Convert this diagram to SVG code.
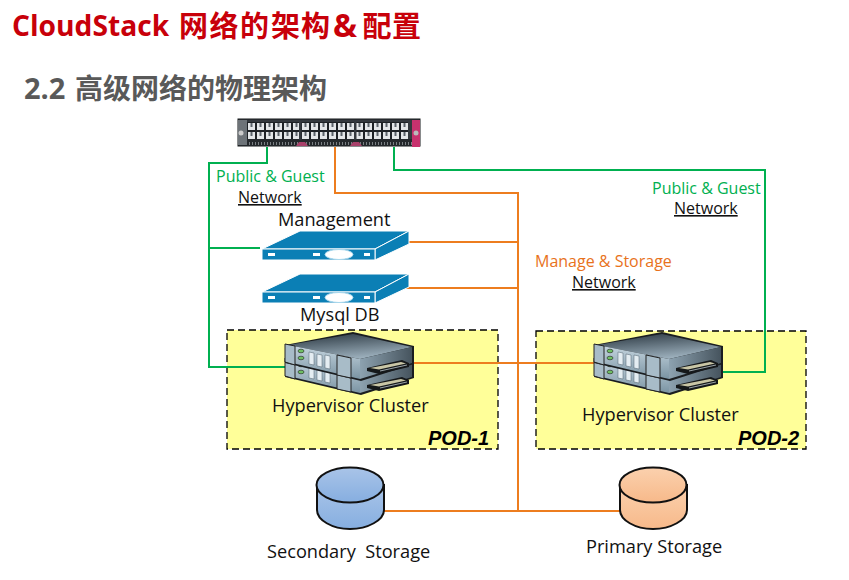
<svg xmlns="http://www.w3.org/2000/svg" width="849" height="580" viewBox="0 0 849 580">
<style>
text{font-family:"Open Sans","Noto Sans CJK SC",sans-serif}
.t{font-size:18.200px;fill:#111}
.gt{font-size:16px;fill:#00b050}
.ot{font-size:16px;fill:#e8721c}
.u{font-size:16px;fill:#111;text-decoration:underline}
.pod{font-size:20px;font-weight:700;font-style:italic;fill:#000;font-family:"Liberation Sans",sans-serif}
.box{fill:#ffff99;stroke:#000;stroke-width:1.300;stroke-dasharray:7 4}
.g{fill:none;stroke:#00b050;stroke-width:2}
.o{fill:none;stroke:#ed7d1f;stroke-width:2}
.h1{font-size:29px;font-weight:700;fill:#c8000a}
.h2{font-size:28px;font-weight:700;fill:#595959}
</style>
<defs>
<linearGradient id="top" x1="0.300" y1="0" x2="0.700" y2="1"><stop offset="0" stop-color="#33404a"/><stop offset="1" stop-color="#a5b9c6"/></linearGradient>
<linearGradient id="front" x1="0" y1="0" x2="0" y2="1"><stop offset="0" stop-color="#c6d6e0"/><stop offset="1" stop-color="#7a93a2"/></linearGradient>
<linearGradient id="side" x1="0" y1="0" x2="1" y2="0"><stop offset="0" stop-color="#8da2b0"/><stop offset="1" stop-color="#46545e"/></linearGradient>
<linearGradient id="blue" x1="0" y1="0" x2="0" y2="1"><stop offset="0" stop-color="#a9c4e8"/><stop offset="1" stop-color="#86aee0"/></linearGradient>
<linearGradient id="peach" x1="0" y1="0" x2="0" y2="1"><stop offset="0" stop-color="#fbd1ae"/><stop offset="1" stop-color="#f7b98a"/></linearGradient>
<pattern id="ports" width="9" height="9" patternUnits="userSpaceOnUse" patternTransform="translate(247 122)"><rect width="9" height="9" fill="#1e2226"/><rect x="1" y="1" width="7" height="7" fill="#e4e7e9"/><rect x="3.500" y="1" width="2" height="4" fill="#5c646b"/></pattern>
<pattern id="ticks" width="3" height="7" patternUnits="userSpaceOnUse"><rect width="3" height="7" fill="#24282c"/><rect width="1" height="3" y="2" fill="#7b8084"/></pattern>
<g id="server">
<path d="M1 19 L39 1 L148 1 L114 19 Z" fill="#0b7fb5" stroke="#fff" stroke-width="1"/>
<path d="M114 19 L148 1 L148 14 L114 30 Z" fill="#0b7fb5" stroke="#fff" stroke-width="1"/>
<rect x="1" y="19" width="113" height="11" fill="#0b7fb5" stroke="#fff" stroke-width="1"/>
<rect x="7" y="23" width="7" height="3" fill="#fff"/><rect x="52" y="23" width="7" height="3" fill="#fff"/><rect x="103" y="23" width="6" height="3" fill="#fff"/>
<ellipse cx="78" cy="24.500" rx="14" ry="5" fill="#fff" stroke="#a8d8ee" stroke-width="1"/>
</g>
<g id="blade">
<path d="M0 12 L68 -1 L129 13 L129 31 L76 48 L0 30 Z" fill="#1a1d20"/>
<path d="M3 12 L68 1 L127 14 L75 26 Z" fill="url(#top)"/>
<path d="M75 26 L127 14 L127 30 L75 46 Z" fill="url(#side)"/>
<path d="M3 12 L75 26 L75 46 L3 29 Z" fill="url(#front)"/>
<path d="M0 11 L10 13 L10 32 L0 29 Z" fill="#a8bcc8" stroke="#222"/>
<path d="M52 22 L66 25 L66 45 L52 42 Z" fill="#a8bcc8" stroke="#222"/>
<ellipse cx="16" cy="18" rx="3" ry="1.800" fill="#6fbf63" stroke="#222" stroke-width=".6"/>
<ellipse cx="16" cy="25" rx="3" ry="1.800" fill="#6fbf63" stroke="#222" stroke-width=".6"/>
<path d="M24 19 L29 20 L29 32 L24 31 Z M32 21 L37 22 L37 34 L32 33 Z M40 22 L45 23 L45 36 L40 35 Z" fill="#e4edf2" stroke="#50626e" stroke-width=".5"/>
</g>
<g id="tray">
<path d="M0 8 L35 0 L42 3 L42 7 L12 14 L0 11 Z" fill="#15181a"/>
<path d="M3 8 L34 2 L39 3.500 L12 9.500 Z" fill="#c9c6a6"/>
<path d="M13 11 L40 5" stroke="#9aa3a8" stroke-width="1" fill="none"/>
</g>
</defs>
<rect width="849" height="580" fill="#fff"/>

<g id="titles">
<text class="h1" x="12" y="36" style="font-size:28.200px">CloudStack</text>
<text class="h1" x="179 209.500 240 271 301" y="37">网络的架构</text>
<text class="h1" x="333" y="37" style="font-size:32px">&amp;</text>
<text class="h1" x="362.500 392" y="37">配置</text>
<text class="h2" x="24" y="99" style="font-size:29px">2.2</text>
<text class="h2" x="75" y="99">高级网络的物理架构</text>
</g>

<g id="pod-1"><rect class="box" x="227" y="330" width="271" height="119"/><text class="pod" x="428" y="445">POD-1</text></g>
<g id="pod-2"><rect class="box" x="536" y="331" width="270" height="118"/><text class="pod" x="738" y="445">POD-2</text></g>

<g id="connectors">
<path class="g" d="M267 147V163H209V367H292M209 248H260"/>
<path class="g" d="M394 147V170H765V372H720"/>
<path class="o" d="M335 147V193H518V511M408 242H518M406 288H518M408 363H596M384 511H622"/>
</g>

<g id="switch">
<rect x="238" y="119" width="182" height="27" fill="#34393e" stroke="#15181a"/>
<rect x="238" y="120" width="9" height="25" fill="#6d7378"/>
<rect x="247" y="122" width="161" height="18" fill="url(#ports)"/>
<rect x="247" y="139" width="165" height="7" fill="url(#ticks)"/>
<rect x="299" y="120" width="2.500" height="20" fill="#34393e"/><rect x="354" y="120" width="2.500" height="20" fill="#34393e"/>
<rect x="412" y="120" width="8" height="27" fill="#c8326e"/>
<circle cx="416" cy="133" r="2.500" fill="#bbb"/><circle cx="241" cy="133" r="2.500" fill="#ccc"/>
<path d="M296 146l3-4h6l3 4zM350 146l3-4h6l3 4z" fill="#a8406a"/>
</g>

<g id="management"><use href="#server" x="261" y="230"/><text class="t" x="278" y="226">Management</text></g>
<g id="mysql-db"><use href="#server" x="261" y="273"/><text class="t" x="300" y="321">Mysql DB</text></g>

<g id="cluster-1">
<use href="#blade" x="285" y="347"/><use href="#blade" x="285" y="333"/>
<use href="#tray" x="367" y="377"/><use href="#tray" x="367" y="360"/>
<text class="t" x="272" y="412">Hypervisor Cluster</text>
</g>
<g id="cluster-2">
<use href="#blade" x="594" y="347"/><use href="#blade" x="594" y="333"/>
<use href="#tray" x="676" y="377"/><use href="#tray" x="676" y="360"/>
<text class="t" x="582" y="421">Hypervisor Cluster</text>
</g>

<g id="secondary-storage">
<path d="M317 485V510C317 520 332 529 350 529S384 520 384 510V485Z" fill="url(#blue)" stroke="#111" stroke-width="2"/>
<ellipse cx="350" cy="485" rx="33.500" ry="17.500" fill="url(#blue)" stroke="#111" stroke-width="2"/>
<text class="t" x="267" y="558" xml:space="preserve">Secondary  Storage</text>
</g>
<g id="primary-storage">
<path d="M620 485V510C620 520 635 529 653 529S687 520 687 510V485Z" fill="url(#peach)" stroke="#111" stroke-width="2"/>
<ellipse cx="653" cy="485" rx="33.500" ry="17.500" fill="url(#peach)" stroke="#111" stroke-width="2"/>
<text class="t" x="586" y="553">Primary Storage</text>
</g>

<g id="labels">
<text class="gt" x="216" y="182">Public &amp; Guest</text><text class="u" x="238" y="203">Network</text>
<text class="gt" x="652" y="194">Public &amp; Guest</text><text class="u" x="674" y="214">Network</text>
<text class="ot" x="535" y="267">Manage &amp; Storage</text><text class="u" x="572" y="288">Network</text>
</g>
</svg>
